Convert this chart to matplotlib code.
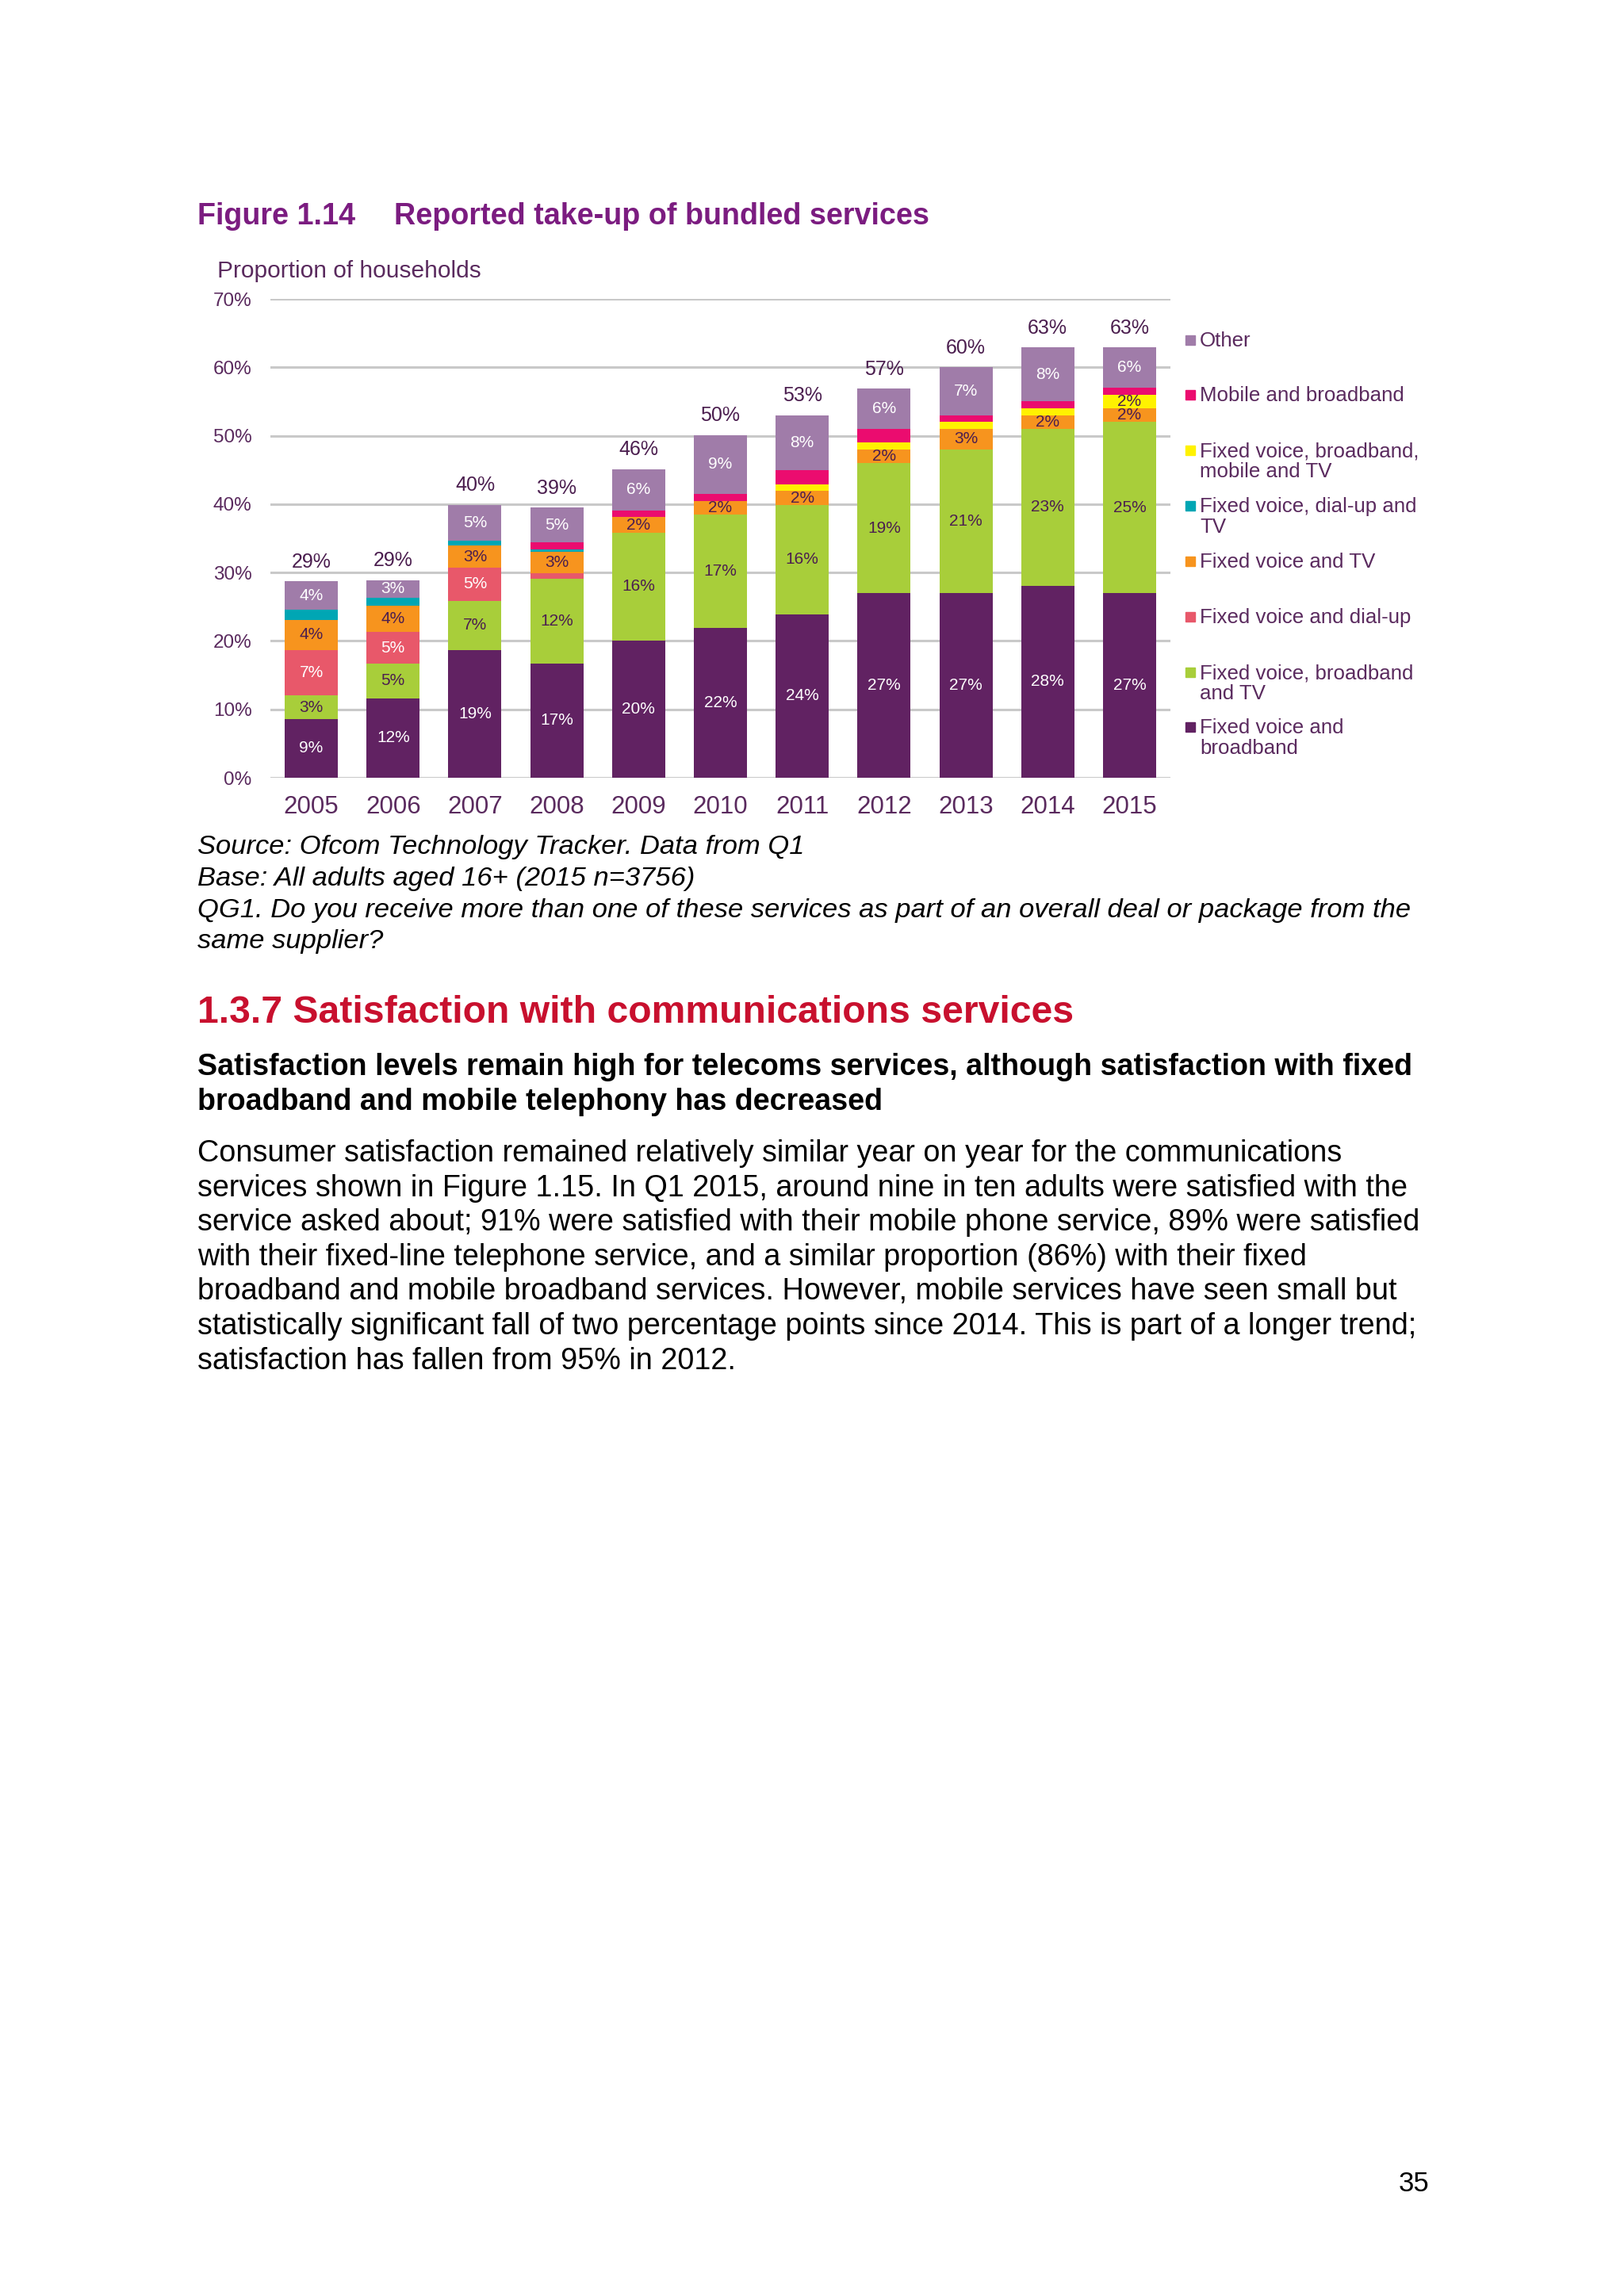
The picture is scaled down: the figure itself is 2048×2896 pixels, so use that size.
import matplotlib
matplotlib.use("Agg")
import matplotlib.pyplot as plt
from matplotlib.patches import Rectangle
import numpy as np

plt.rcParams['font.family'] = ['Liberation Sans', 'DejaVu Sans']

W, H = 2048, 2896

years = ["2005", "2006", "2007", "2008", "2009", "2010", "2011", "2012", "2013", "2014", "2015"]

# stacked bottom -> top
fv_bb = [8.6, 11.6, 18.7, 16.7, 20.1, 21.9, 23.9, 27.0, 27.0, 28.1, 27.0]
fv_bb_tv = [3.4, 5.1, 7.2, 12.4, 15.7, 16.6, 16.0, 19.0, 21.0, 22.9, 25.0]
fv_dialup = [6.7, 4.6, 4.8, 0.8, 0, 0, 0, 0, 0, 0, 0]
fv_tv = [4.4, 3.8, 3.2, 3.1, 2.3, 2.0, 2.0, 2.0, 3.0, 2.0, 2.0]
fv_dialup_tv = [1.5, 1.2, 0.8, 0.4, 0, 0, 0, 0, 0, 0, 0]
fv_bb_mob_tv = [0, 0, 0, 0, 0, 0, 1.0, 1.0, 1.0, 1.0, 2.0]
mob_bb = [0, 0, 0, 1.0, 1.0, 1.0, 2.1, 2.0, 1.0, 1.0, 1.0]
other = [4.1, 2.6, 5.2, 5.1, 6.0, 8.6, 8.0, 5.9, 7.0, 7.9, 5.9]
totals = [29, 29, 40, 39, 46, 50, 53, 57, 60, 63, 63]

series = [fv_bb, fv_bb_tv, fv_dialup, fv_tv, fv_dialup_tv, fv_bb_mob_tv, mob_bb, other]
names = ["Fixed voice and\nbroadband", "Fixed voice, broadband\nand TV", "Fixed voice and dial-up",
         "Fixed voice and TV", "Fixed voice, dial-up and\nTV", "Fixed voice, broadband,\nmobile and TV",
         "Mobile and broadband", "Other"]
colors = ["#612262", "#A8CE3A", "#E8586A", "#F7941E", "#00A6B4", "#FFF200", "#EB0C6F", "#A07CA9"]
lab_colors = ["white", "#4B1E4F", "white", "#4B1E4F", None, "#4B1E4F", None, "white"]

txt_col = "#5A2A5E"
dark = "#4B1E4F"

fig = plt.figure(figsize=(W / 100, H / 100), dpi=100)
fig.patch.set_facecolor("white")


def fx(x):
    return x / W


def fy(y):
    return 1 - y / H


ax = fig.add_axes([fx(341), fy(981), fx(1476) - fx(341), fy(377) - fy(981)])
x = np.arange(len(years))
bottom = np.zeros(len(years))
for vals, col, lc in zip(series, colors, lab_colors):
    vals = np.array(vals, dtype=float)
    ax.bar(x, vals, 0.65, bottom=bottom, color=col, linewidth=0, zorder=3)
    if lc is not None:
        for i, v in enumerate(vals):
            if round(v) >= 2:
                ax.text(x[i], bottom[i] + v / 2, f"{round(v)}%", ha="center", va="center",
                        fontsize=15, color=lc, zorder=4)
    bottom += vals

for i, t in enumerate(totals):
    ax.annotate(f"{t}%", (x[i], bottom[i]), xytext=(0, 9), textcoords="offset points",
                ha="center", va="bottom", fontsize=18, color=dark)

ax.set_xlim(-0.5, 10.5)
ax.set_ylim(0, 70)
ax.set_yticks(range(0, 71, 10))
ax.set_yticklabels([f"{v}%" for v in range(0, 71, 10)])
ax.set_xticks(x)
ax.set_xticklabels(years)
ax.tick_params(axis="y", length=0, pad=17, labelsize=17.5, labelcolor=txt_col)
ax.tick_params(axis="x", length=0, pad=16, labelsize=22.5, labelcolor=txt_col)
ax.grid(axis="y", color="#C9C9C9", linewidth=2.2, zorder=0)
for s in ax.spines.values():
    s.set_visible(False)
ax.set_facecolor("none")

# legend (drawn by hand so markers sit on the first line)
leg_y = [429, 498, 568, 638, 708, 778, 848, 917]
for k, yy in enumerate(leg_y):
    idx = len(series) - 1 - k
    fig.patches.append(Rectangle((fx(1495), fy(yy + 6)), fx(12), 12 / H,
                                 transform=fig.transFigure, color=colors[idx]))
    fig.text(fx(1513), fy(yy - 11), names[idx], ha="left", va="top", fontsize=18.6,
             color=txt_col, linespacing=1.1)

# titles
fig.text(fx(249), fy(273), "Figure 1.14", fontsize=27.2, fontweight="bold", color="#7B1C80", va="center")
fig.text(fx(497), fy(273), "Reported take-up of bundled services", fontsize=27.2, fontweight="bold",
         color="#7B1C80", va="center")
fig.text(fx(274), fy(342), "Proportion of households", fontsize=21.5, color=txt_col, va="center")

notes = ["Source: Ofcom Technology Tracker. Data from Q1",
         "Base: All adults aged 16+ (2015 n=3756)",
         "QG1. Do you receive more than one of these services as part of an overall deal or package from the",
         "same supplier?"]
for i, line in enumerate(notes):
    fig.text(fx(249), fy(1069 + i * 39.6), line, fontsize=24.8, style="italic", color="black", va="center")

fig.text(fx(249), fy(1277), "1.3.7 Satisfaction with communications services", fontsize=34.7,
         fontweight="bold", color="#C8102E", va="center")

bold_lines = ["Satisfaction levels remain high for telecoms services, although satisfaction with fixed",
              "broadband and mobile telephony has decreased"]
for i, line in enumerate(bold_lines):
    fig.text(fx(249), fy(1346 + i * 44), line, fontsize=27.1, fontweight="bold", color="black", va="center")

body = ["Consumer satisfaction remained relatively similar year on year for the communications",
        "services shown in Figure 1.15. In Q1 2015, around nine in ten adults were satisfied with the",
        "service asked about; 91% were satisfied with their mobile phone service, 89% were satisfied",
        "with their fixed-line telephone service, and a similar proportion (86%) with their fixed",
        "broadband and mobile broadband services. However, mobile services have seen small but",
        "statistically significant fall of two percentage points since 2014. This is part of a longer trend;",
        "satisfaction has fallen from 95% in 2012."]
for i, line in enumerate(body):
    fig.text(fx(249), fy(1455 + i * 43.6), line, fontsize=27.2, color="black", va="center")

fig.text(fx(1802), fy(2755), "35", fontsize=25, color="black", ha="right", va="center")

fig.savefig("out.png", dpi=100, facecolor="white")
